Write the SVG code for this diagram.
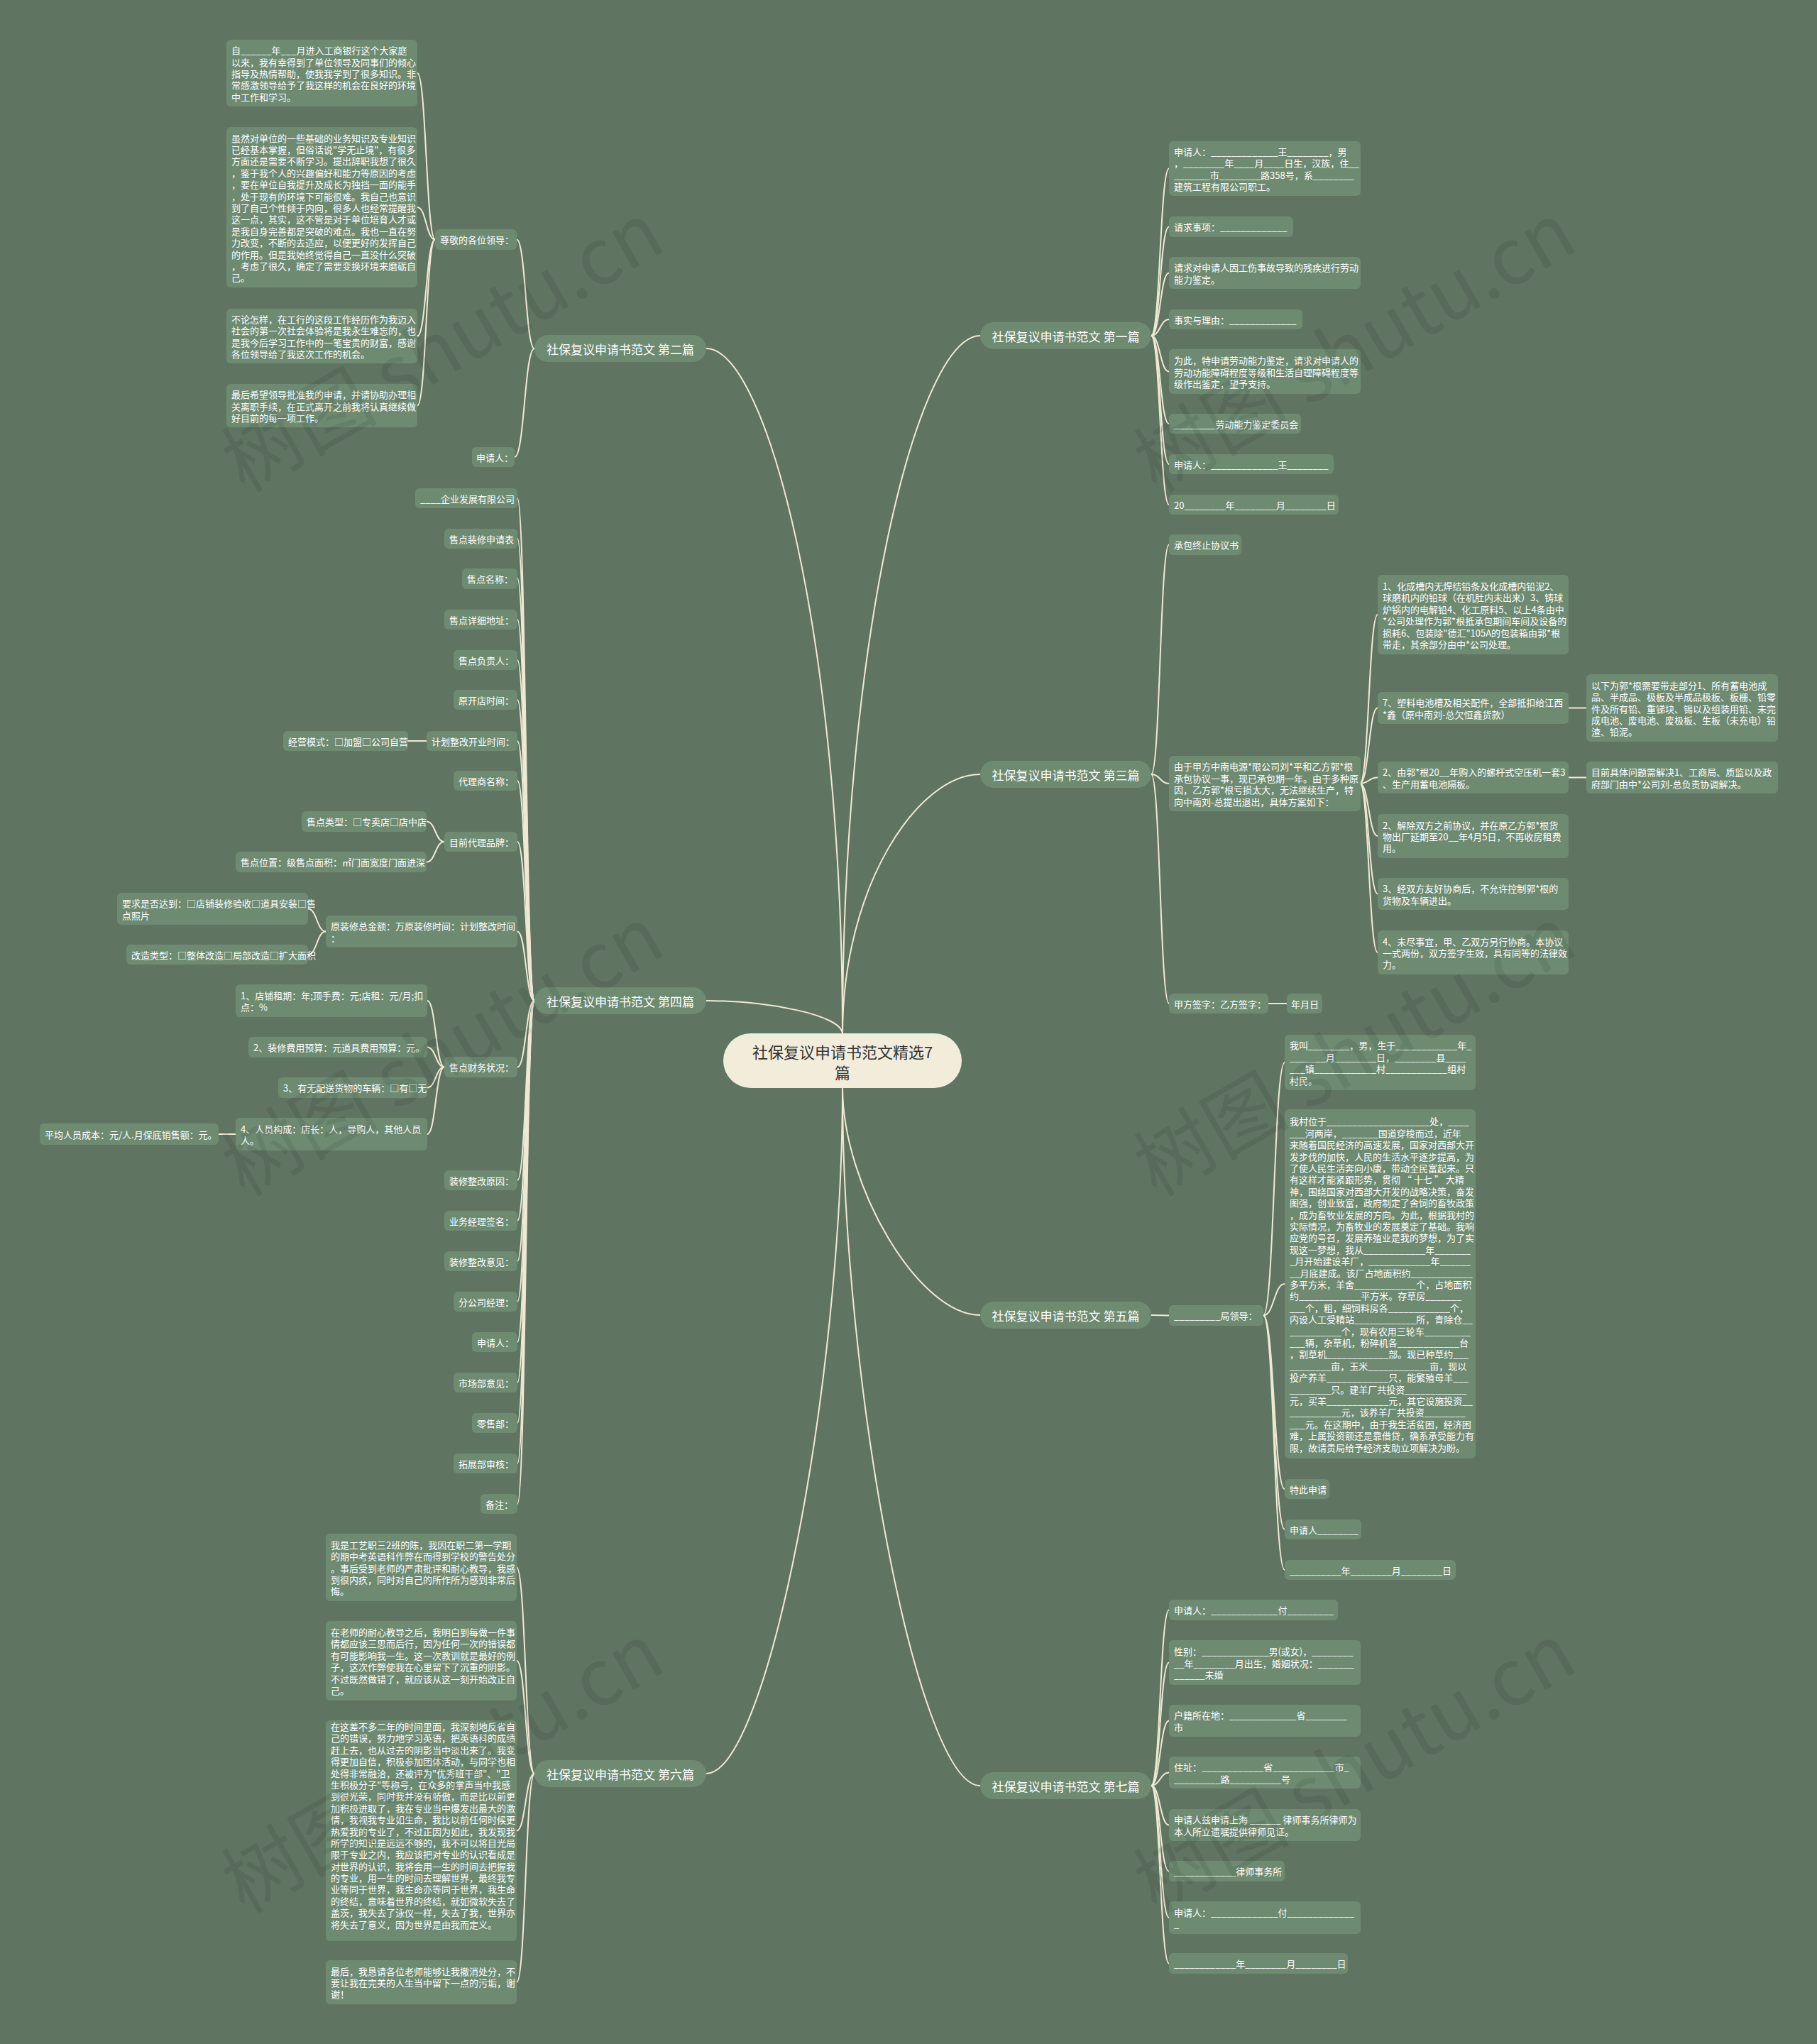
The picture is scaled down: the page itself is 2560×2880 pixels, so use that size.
<svg xmlns="http://www.w3.org/2000/svg" width="2560" height="2880" viewBox="0 0 2560 2880">
<style>
.bg{fill:#607462}
.n{fill:#6e8b72}
.t{font-family:"Noto Sans CJK SC","Noto Sans",sans-serif;font-size:13px;fill:#ffffff;dominant-baseline:central}
.bt{font-family:"Noto Sans CJK SC","Noto Sans",sans-serif;font-size:17px;fill:#ffffff;dominant-baseline:central;text-anchor:middle}
.rt{font-family:"Noto Sans CJK SC","Noto Sans",sans-serif;font-size:22px;fill:#333333;dominant-baseline:central;text-anchor:middle}
.c{fill:none;stroke:#efe9d4;stroke-width:2}
.wm{font-family:"Noto Sans CJK SC","Noto Sans",sans-serif;font-size:110px;fill:#000000;fill-opacity:0.08}
</style>
<rect class="bg" x="0" y="0" width="2560" height="2880"/>

<g id="connectors">
<path class="c" d="M995 491 C1081 491 1187 906 1187 1457"/>
<path class="c" d="M1381 473 C1294 473 1187 896 1187 1457"/>
<path class="c" d="M1381 1091 C1294 1091 1187 1248 1187 1457"/>
<path class="c" d="M995 1410 C1081 1410 1187 1430 1187 1457"/>
<path class="c" d="M1381 1853 C1294 1853 1187 1670 1187 1532"/>
<path class="c" d="M995 2499 C1081 2499 1187 1948 1187 1532"/>
<path class="c" d="M1381 2516 C1294 2516 1187 1955 1187 1532"/>
<path class="c" d="M1622 473 C1634.5 473 1634.5 237.5 1647 237.5"/>
<path class="c" d="M1622 473 C1634.5 473 1634.5 319.5 1647 319.5"/>
<path class="c" d="M1622 473 C1634.5 473 1634.5 384.5 1647 384.5"/>
<path class="c" d="M1622 473 C1634.5 473 1634.5 450 1647 450"/>
<path class="c" d="M1622 473 C1634.5 473 1634.5 523.5 1647 523.5"/>
<path class="c" d="M1622 473 C1634.5 473 1634.5 597 1647 597"/>
<path class="c" d="M1622 473 C1634.5 473 1634.5 654 1647 654"/>
<path class="c" d="M1622 473 C1634.5 473 1634.5 711 1647 711"/>
<path class="c" d="M1622 1091 C1634.5 1091 1634.5 767.5 1647 767.5"/>
<path class="c" d="M1622 1091 C1634.5 1091 1634.5 1104 1647 1104"/>
<path class="c" d="M1622 1091 C1634.5 1091 1634.5 1414 1647 1414"/>
<path class="c" d="M1787 1414 L1813 1414"/>
<path class="c" d="M1916 1104 C1928.5 1104 1928.5 866 1941 866"/>
<path class="c" d="M1916 1104 C1928.5 1104 1928.5 997.5 1941 997.5"/>
<path class="c" d="M1916 1104 C1928.5 1104 1928.5 1095.5 1941 1095.5"/>
<path class="c" d="M1916 1104 C1928.5 1104 1928.5 1178 1941 1178"/>
<path class="c" d="M1916 1104 C1928.5 1104 1928.5 1259.5 1941 1259.5"/>
<path class="c" d="M1916 1104 C1928.5 1104 1928.5 1342 1941 1342"/>
<path class="c" d="M2210 997.5 L2235 997.5"/>
<path class="c" d="M2210 1095.5 L2235 1095.5"/>
<path class="c" d="M1622 1853 L1647 1853.5"/>
<path class="c" d="M1780 1853.5 C1795 1853.5 1795 1497 1810 1497"/>
<path class="c" d="M1780 1853.5 C1795 1853.5 1795 1809 1810 1809"/>
<path class="c" d="M1780 1853.5 C1795 1853.5 1795 2098 1810 2098"/>
<path class="c" d="M1780 1853.5 C1795 1853.5 1795 2155 1810 2155"/>
<path class="c" d="M1780 1853.5 C1795 1853.5 1795 2212 1810 2212"/>
<path class="c" d="M1622 2516 C1634.5 2516 1634.5 2268.5 1647 2268.5"/>
<path class="c" d="M1622 2516 C1634.5 2516 1634.5 2342.5 1647 2342.5"/>
<path class="c" d="M1622 2516 C1634.5 2516 1634.5 2424.5 1647 2424.5"/>
<path class="c" d="M1622 2516 C1634.5 2516 1634.5 2497.5 1647 2497.5"/>
<path class="c" d="M1622 2516 C1634.5 2516 1634.5 2571.5 1647 2571.5"/>
<path class="c" d="M1622 2516 C1634.5 2516 1634.5 2636.5 1647 2636.5"/>
<path class="c" d="M1622 2516 C1634.5 2516 1634.5 2702 1647 2702"/>
<path class="c" d="M1622 2516 C1634.5 2516 1634.5 2766.5 1647 2766.5"/>
<path class="c" d="M753 491 C740.5 491 740.5 337.5 728 337.5"/>
<path class="c" d="M753 491 C739 491 739 644 725 644"/>
<path class="c" d="M613 337.5 C600.5 337.5 600.5 103 588 103"/>
<path class="c" d="M613 337.5 C600.5 337.5 600.5 292 588 292"/>
<path class="c" d="M613 337.5 C600.5 337.5 600.5 473.5 588 473.5"/>
<path class="c" d="M613 337.5 C600.5 337.5 600.5 571.5 588 571.5"/>
<path class="c" d="M753 1410 C741 1410 741 702 729 702"/>
<path class="c" d="M753 1410 C741 1410 741 759 729 759"/>
<path class="c" d="M753 1410 C741 1410 741 815 729 815"/>
<path class="c" d="M753 1410 C741 1410 741 873 729 873"/>
<path class="c" d="M753 1410 C741 1410 741 930 729 930"/>
<path class="c" d="M753 1410 C741 1410 741 986 729 986"/>
<path class="c" d="M753 1410 C741 1410 741 1044 729 1044"/>
<path class="c" d="M753 1410 C741 1410 741 1100 729 1100"/>
<path class="c" d="M753 1410 C741 1410 741 1186 729 1186"/>
<path class="c" d="M753 1410 C741 1410 741 1312.5 729 1312.5"/>
<path class="c" d="M753 1410 C741 1410 741 1503.5 729 1503.5"/>
<path class="c" d="M753 1410 C741 1410 741 1663 729 1663"/>
<path class="c" d="M753 1410 C741 1410 741 1720 729 1720"/>
<path class="c" d="M753 1410 C741 1410 741 1777 729 1777"/>
<path class="c" d="M753 1410 C741 1410 741 1834 729 1834"/>
<path class="c" d="M753 1410 C741 1410 741 1891 729 1891"/>
<path class="c" d="M753 1410 C741 1410 741 1948 729 1948"/>
<path class="c" d="M753 1410 C741 1410 741 2005 729 2005"/>
<path class="c" d="M753 1410 C741 1410 741 2062 729 2062"/>
<path class="c" d="M753 1410 C741 1410 741 2119 729 2119"/>
<path class="c" d="M601 1044 L575 1044"/>
<path class="c" d="M626 1186 C613.5 1186 613.5 1157.5 601 1157.5"/>
<path class="c" d="M626 1186 C613.5 1186 613.5 1214.5 601 1214.5"/>
<path class="c" d="M459 1312.5 C446.5 1312.5 446.5 1280.5 434 1280.5"/>
<path class="c" d="M459 1312.5 C446.5 1312.5 446.5 1345 434 1345"/>
<path class="c" d="M626 1503.5 C614 1503.5 614 1410 602 1410"/>
<path class="c" d="M626 1503.5 C614 1503.5 614 1475.5 602 1475.5"/>
<path class="c" d="M626 1503.5 C614 1503.5 614 1532.5 602 1532.5"/>
<path class="c" d="M626 1503.5 C614 1503.5 614 1598 602 1598"/>
<path class="c" d="M332 1598 L308 1598"/>
<path class="c" d="M753 2499 C740.5 2499 740.5 2208.5 728 2208.5"/>
<path class="c" d="M753 2499 C740.5 2499 740.5 2340 728 2340"/>
<path class="c" d="M753 2499 C740.5 2499 740.5 2579.5 728 2579.5"/>
<path class="c" d="M753 2499 C740.5 2499 740.5 2793 728 2793"/>
</g>

<g id="root"><rect x="1019" y="1456" width="336" height="77" rx="38.5" fill="#f2eddb"/><text class="rt"><tspan x="1187" y="1481">社保复议申请书范文精选7</tspan><tspan x="1187" y="1510">篇</tspan></text></g>

<g id="b1"><rect class="n" x="1381" y="454" width="241" height="38" rx="19"/><text class="bt" x="1501.5" y="473">社保复议申请书范文 第一篇</text></g>
<g id="b2"><rect class="n" x="753" y="472" width="242" height="38" rx="19"/><text class="bt" x="874" y="491">社保复议申请书范文 第二篇</text></g>
<g id="b3"><rect class="n" x="1381" y="1072" width="241" height="38" rx="19"/><text class="bt" x="1501.5" y="1091">社保复议申请书范文 第三篇</text></g>
<g id="b4"><rect class="n" x="753" y="1391" width="242" height="38" rx="19"/><text class="bt" x="874" y="1410">社保复议申请书范文 第四篇</text></g>
<g id="b5"><rect class="n" x="1381" y="1834" width="241" height="38" rx="19"/><text class="bt" x="1501.5" y="1853">社保复议申请书范文 第五篇</text></g>
<g id="b6"><rect class="n" x="753" y="2480" width="242" height="38" rx="19"/><text class="bt" x="874" y="2499">社保复议申请书范文 第六篇</text></g>
<g id="b7"><rect class="n" x="1381" y="2497" width="241" height="38" rx="19"/><text class="bt" x="1501.5" y="2516">社保复议申请书范文 第七篇</text></g>

<g id="p1-1"><rect class="n" x="1647" y="199" width="270" height="77" rx="6"/><text class="t" y="212.9"><tspan x="1654">申请人：_____________王________，男</tspan><tspan x="1654" dy="16.4">，________年____月____日生，汉族，住__</tspan><tspan x="1654" dy="16.4">_______市________路358号，系________</tspan><tspan x="1654" dy="16.4">建筑工程有限公司职工。</tspan></text></g>
<g id="p1-2"><rect class="n" x="1647" y="305" width="175" height="29" rx="6"/><text class="t" x="1654" y="319.5">请求事项：_____________</text></g>
<g id="p1-3"><rect class="n" x="1647" y="362" width="270" height="45" rx="6"/><text class="t" y="376.3"><tspan x="1654">请求对申请人因工伤事故导致的残疾进行劳动</tspan><tspan x="1654" dy="16.4">能力鉴定。</tspan></text></g>
<g id="p1-4"><rect class="n" x="1647" y="436" width="188" height="28" rx="6"/><text class="t" x="1654" y="450">事实与理由：_____________</text></g>
<g id="p1-5"><rect class="n" x="1647" y="492" width="270" height="63" rx="6"/><text class="t" y="507.1"><tspan x="1654">为此，特申请劳动能力鉴定，请求对申请人的</tspan><tspan x="1654" dy="16.4">劳动功能障碍程度等级和生活自理障碍程度等</tspan><tspan x="1654" dy="16.4">级作出鉴定，望予支持。</tspan></text></g>
<g id="p1-6"><rect class="n" x="1647" y="583" width="186" height="28" rx="6"/><text class="t" x="1654" y="597">________劳动能力鉴定委员会</text></g>
<g id="p1-7"><rect class="n" x="1647" y="640" width="232" height="28" rx="6"/><text class="t" x="1654" y="654">申请人：_____________王________</text></g>
<g id="p1-8"><rect class="n" x="1647" y="697" width="239" height="28" rx="6"/><text class="t" x="1654" y="711">20________年________月________日</text></g>

<g id="p3-a"><rect class="n" x="1647" y="753" width="102" height="29" rx="6"/><text class="t" x="1654" y="767.5">承包终止协议书</text></g>
<g id="p3-b"><rect class="n" x="1647" y="1065" width="270" height="78" rx="6"/><text class="t" y="1079.4"><tspan x="1654">由于甲方中南电源*限公司刘*平和乙方郭*根</tspan><tspan x="1654" dy="16.4">承包协议一事，现已承包期一年。由于多种原</tspan><tspan x="1654" dy="16.4">因，乙方郭*根亏损太大，无法继续生产，特</tspan><tspan x="1654" dy="16.4">向中南刘-总提出退出，具体方案如下：</tspan></text></g>
<g id="p3-c"><rect class="n" x="1647" y="1400" width="140" height="28" rx="6"/><text class="t" x="1654" y="1414">甲方签字：乙方签字：</text></g>
<g id="p3-c1"><rect class="n" x="1813" y="1400" width="50" height="28" rx="6"/><text class="t" x="1819" y="1414">年月日</text></g>
<g id="p3-b1"><rect class="n" x="1941" y="810" width="269" height="112" rx="6"/><text class="t" y="825"><tspan x="1948">1、化成槽内无焊结铅条及化成槽内铅泥2、</tspan><tspan x="1948" dy="16.4">球磨机内的铅球（在机肚内未出来）3、铸球</tspan><tspan x="1948" dy="16.4">炉锅内的电解铅4、化工原料5、以上4条由中</tspan><tspan x="1948" dy="16.4">*公司处理作为郭*根抵承包期间车间及设备的</tspan><tspan x="1948" dy="16.4">损耗6、包装除"德汇"105A的包装箱由郭*根</tspan><tspan x="1948" dy="16.4">带走，其余部分由中*公司处理。</tspan></text></g>
<g id="p3-b2"><rect class="n" x="1941" y="975" width="269" height="45" rx="6"/><text class="t" y="989.3"><tspan x="1948">7、塑料电池槽及相关配件，全部抵扣给江西</tspan><tspan x="1948" dy="16.4">*鑫（原中南刘-总欠恒鑫货款）</tspan></text></g>
<g id="p3-b2a"><rect class="n" x="2235" y="950" width="270" height="95" rx="6"/><text class="t" y="964.7"><tspan x="2242">以下为郭*根需要带走部分1、所有蓄电池成</tspan><tspan x="2242" dy="16.4">品、半成品、极板及半成品极板、板栅、铅零</tspan><tspan x="2242" dy="16.4">件及所有铅、重锑块、锡以及组装用铅、未完</tspan><tspan x="2242" dy="16.4">成电池、废电池、废极板、生板（未充电）铅</tspan><tspan x="2242" dy="16.4">渣、铅泥。</tspan></text></g>
<g id="p3-b3"><rect class="n" x="1941" y="1073" width="269" height="45" rx="6"/><text class="t" y="1087.3"><tspan x="1948">2、由郭*根20__年购入的螺杆式空压机一套3</tspan><tspan x="1948" dy="16.4">、生产用蓄电池隔板。</tspan></text></g>
<g id="p3-b3a"><rect class="n" x="2235" y="1073" width="270" height="45" rx="6"/><text class="t" y="1087.3"><tspan x="2242">目前具体问题需解决1、工商局、质监以及政</tspan><tspan x="2242" dy="16.4">府部门由中*公司刘-总负责协调解决。</tspan></text></g>
<g id="p3-b4"><rect class="n" x="1941" y="1147" width="269" height="62" rx="6"/><text class="t" y="1161.6"><tspan x="1948">2、解除双方之前协议，并在原乙方郭*根货</tspan><tspan x="1948" dy="16.4">物出厂延期至20__年4月5日，不再收房租费</tspan><tspan x="1948" dy="16.4">用。</tspan></text></g>
<g id="p3-b5"><rect class="n" x="1941" y="1237" width="269" height="45" rx="6"/><text class="t" y="1251.3"><tspan x="1948">3、经双方友好协商后，不允许控制郭*根的</tspan><tspan x="1948" dy="16.4">货物及车辆进出。</tspan></text></g>
<g id="p3-b6"><rect class="n" x="1941" y="1311" width="269" height="62" rx="6"/><text class="t" y="1325.6"><tspan x="1948">4、未尽事宜，甲、乙双方另行协商。本协议</tspan><tspan x="1948" dy="16.4">一式两份，双方签字生效，具有同等的法律效</tspan><tspan x="1948" dy="16.4">力。</tspan></text></g>

<g id="p5-0"><rect class="n" x="1647" y="1839" width="133" height="29" rx="6"/><text class="t" x="1654" y="1853.5">_________局领导：</text></g>
<g id="p5-1"><rect class="n" x="1810" y="1458" width="269" height="78" rx="6"/><text class="t" y="1472.4"><tspan x="1817">我叫________，男，生于____________年_</tspan><tspan x="1817" dy="16.4">_______月________日，________县____</tspan><tspan x="1817" dy="16.4">___镇____________村____________组村</tspan><tspan x="1817" dy="16.4">村民。</tspan></text></g>
<g id="p5-2"><rect class="n" x="1810" y="1563" width="269" height="492" rx="6"/><text class="t" y="1579.4"><tspan x="1817">我村位于____________________处，____</tspan><tspan x="1817" dy="16.4">___河两岸，_______国道穿梭而过，近年</tspan><tspan x="1817" dy="16.4">来随着国民经济的高速发展，国家对西部大开</tspan><tspan x="1817" dy="16.4">发步伐的加快，人民的生活水平逐步提高，为</tspan><tspan x="1817" dy="16.4">了使人民生活奔向小康，带动全民富起来。只</tspan><tspan x="1817" dy="16.4">有这样才能紧跟形势，贯彻 “ 十七 ” 大精</tspan><tspan x="1817" dy="16.4">神，围绕国家对西部大开发的战略决策，奋发</tspan><tspan x="1817" dy="16.4">图强，创业致富，政府制定了舍饲的畜牧政策</tspan><tspan x="1817" dy="16.4">，成为畜牧业发展的方向。为此，根据我村的</tspan><tspan x="1817" dy="16.4">实际情况，为畜牧业的发展奠定了基础。我响</tspan><tspan x="1817" dy="16.4">应党的号召，发展养殖业是我的梦想，为了实</tspan><tspan x="1817" dy="16.4">现这一梦想，我从____________年_______</tspan><tspan x="1817" dy="16.4">_月开始建设羊厂，____________年______</tspan><tspan x="1817" dy="16.4">__月底建成。该厂占地面积约____________</tspan><tspan x="1817" dy="16.4">多平方米，羊舍____________个，占地面积</tspan><tspan x="1817" dy="16.4">约____________平方米。存草房_______</tspan><tspan x="1817" dy="16.4">___个，粗，细饲料房各____________个，</tspan><tspan x="1817" dy="16.4">内设人工受精站____________所，青除仓__</tspan><tspan x="1817" dy="16.4">__________个，现有农用三轮车_________</tspan><tspan x="1817" dy="16.4">___辆，杂草机，粉碎机各____________台</tspan><tspan x="1817" dy="16.4">，割草机____________部。现已种草约___</tspan><tspan x="1817" dy="16.4">________亩，玉米____________亩，现以</tspan><tspan x="1817" dy="16.4">投产养羊____________只，能繁殖母羊___</tspan><tspan x="1817" dy="16.4">________只。建羊厂共投资____________</tspan><tspan x="1817" dy="16.4">元，买羊____________元，其它设施投资__</tspan><tspan x="1817" dy="16.4">__________元，该养羊厂共投资________</tspan><tspan x="1817" dy="16.4">___元。在这期中，由于我生活贫困，经济困</tspan><tspan x="1817" dy="16.4">难，上属投资额还是靠借贷，确系承受能力有</tspan><tspan x="1817" dy="16.4">限，故请贵局给予经济支助立项解决为盼。</tspan></text></g>
<g id="p5-3"><rect class="n" x="1810" y="2084" width="63" height="28" rx="6"/><text class="t" x="1817" y="2098">特此申请</text></g>
<g id="p5-4"><rect class="n" x="1810" y="2141" width="108" height="28" rx="6"/><text class="t" x="1817" y="2155">申请人________</text></g>
<g id="p5-5"><rect class="n" x="1810" y="2198" width="241" height="28" rx="6"/><text class="t" x="1817" y="2212">__________年________月________日</text></g>

<g id="p7-1"><rect class="n" x="1647" y="2254" width="238" height="29" rx="6"/><text class="t" x="1654" y="2268.5">申请人：_____________付_________</text></g>
<g id="p7-2"><rect class="n" x="1647" y="2311" width="270" height="63" rx="6"/><text class="t" y="2326.1"><tspan x="1654">性别：_____________男(或女)，________</tspan><tspan x="1654" dy="16.4">__年________月出生，婚姻状况：_______</tspan><tspan x="1654" dy="16.4">______未婚</tspan></text></g>
<g id="p7-3"><rect class="n" x="1647" y="2402" width="270" height="45" rx="6"/><text class="t" y="2416.3"><tspan x="1654">户籍所在地：_____________省________</tspan><tspan x="1654" dy="16.4">市</tspan></text></g>
<g id="p7-4"><rect class="n" x="1647" y="2475" width="270" height="45" rx="6"/><text class="t" y="2489.3"><tspan x="1654">住址：____________省____________市_</tspan><tspan x="1654" dy="16.4">_________路__________号</tspan></text></g>
<g id="p7-5"><rect class="n" x="1647" y="2549" width="270" height="45" rx="6"/><text class="t" y="2563.3"><tspan x="1654">申请人兹申请上海 ______ 律师事务所律师为</tspan><tspan x="1654" dy="16.4">本人所立遗嘱提供律师见证。</tspan></text></g>
<g id="p7-6"><rect class="n" x="1647" y="2622" width="163" height="29" rx="6"/><text class="t" x="1654" y="2636.5">____________律师事务所</text></g>
<g id="p7-7"><rect class="n" x="1647" y="2679" width="270" height="46" rx="6"/><text class="t" y="2693.8"><tspan x="1654">申请人：_____________付_____________</tspan><tspan x="1654" dy="16.4">_</tspan></text></g>
<g id="p7-8"><rect class="n" x="1647" y="2752" width="252" height="29" rx="6"/><text class="t" x="1654" y="2766.5">____________年________月________日</text></g>

<g id="p2-0"><rect class="n" x="613" y="323" width="115" height="29" rx="6"/><text class="t" x="620" y="337.5">尊敬的各位领导：</text></g>
<g id="p2-1"><rect class="n" x="319" y="56" width="269" height="94" rx="6"/><text class="t" y="70.2"><tspan x="326">自______年___月进入工商银行这个大家庭</tspan><tspan x="326" dy="16.4">以来，我有幸得到了单位领导及同事们的倾心</tspan><tspan x="326" dy="16.4">指导及热情帮助，使我我学到了很多知识。非</tspan><tspan x="326" dy="16.4">常感激领导给予了我这样的机会在良好的环境</tspan><tspan x="326" dy="16.4">中工作和学习。</tspan></text></g>
<g id="p2-2"><rect class="n" x="319" y="179" width="269" height="226" rx="6"/><text class="t" y="193.6"><tspan x="326">虽然对单位的一些基础的业务知识及专业知识</tspan><tspan x="326" dy="16.4">已经基本掌握，但俗话说"学无止境"，有很多</tspan><tspan x="326" dy="16.4">方面还是需要不断学习。提出辞职我想了很久</tspan><tspan x="326" dy="16.4">，鉴于我个人的兴趣偏好和能力等原因的考虑</tspan><tspan x="326" dy="16.4">，要在单位自我提升及成长为独挡一面的能手</tspan><tspan x="326" dy="16.4">，处于现有的环境下可能很难。我自己也意识</tspan><tspan x="326" dy="16.4">到了自己个性倾于内向，很多人也经常提醒我</tspan><tspan x="326" dy="16.4">这一点，其实，这不管是对于单位培育人才或</tspan><tspan x="326" dy="16.4">是我自身完善都是突破的难点。我也一直在努</tspan><tspan x="326" dy="16.4">力改变，不断的去适应，以便更好的发挥自己</tspan><tspan x="326" dy="16.4">的作用。但是我始终觉得自己一直没什么突破</tspan><tspan x="326" dy="16.4">，考虑了很久，确定了需要变换环境来磨砺自</tspan><tspan x="326" dy="16.4">己。</tspan></text></g>
<g id="p2-3"><rect class="n" x="319" y="435" width="269" height="77" rx="6"/><text class="t" y="448.9"><tspan x="326">不论怎样，在工行的这段工作经历作为我迈入</tspan><tspan x="326" dy="16.4">社会的第一次社会体验将是我永生难忘的，也</tspan><tspan x="326" dy="16.4">是我今后学习工作中的一笔宝贵的财富，感谢</tspan><tspan x="326" dy="16.4">各位领导给了我这次工作的机会。</tspan></text></g>
<g id="p2-4"><rect class="n" x="319" y="541" width="269" height="61" rx="6"/><text class="t" y="555.1"><tspan x="326">最后希望领导批准我的申请，并请协助办理相</tspan><tspan x="326" dy="16.4">关离职手续，在正式离开之前我将认真继续做</tspan><tspan x="326" dy="16.4">好目前的每一项工作。</tspan></text></g>
<g id="p2-5"><rect class="n" x="665" y="630" width="60" height="28" rx="6"/><text class="t" x="671" y="644">申请人：</text></g>

<g id="p4-1"><rect class="n" x="585" y="688" width="144" height="28" rx="6"/><text class="t" x="592" y="702">____企业发展有限公司</text></g>
<g id="p4-2"><rect class="n" x="626" y="745" width="103" height="28" rx="6"/><text class="t" x="633" y="759">售点装修申请表</text></g>
<g id="p4-3"><rect class="n" x="651" y="801" width="78" height="29" rx="6"/><text class="t" x="658" y="815.5">售点名称：</text></g>
<g id="p4-4"><rect class="n" x="626" y="859" width="103" height="28" rx="6"/><text class="t" x="633" y="873">售点详细地址：</text></g>
<g id="p4-5"><rect class="n" x="639" y="916" width="90" height="28" rx="6"/><text class="t" x="646" y="930">售点负责人：</text></g>
<g id="p4-6"><rect class="n" x="639" y="972" width="90" height="28" rx="6"/><text class="t" x="646" y="986">原开店时间：</text></g>
<g id="p4-7"><rect class="n" x="601" y="1030" width="128" height="28" rx="6"/><text class="t" x="608" y="1044">计划整改开业时间：</text></g>
<g id="p4-7a"><rect class="n" x="399" y="1030" width="176" height="28" rx="6"/><text class="t" x="406" y="1044">经营模式：□加盟□公司自营</text></g>
<g id="p4-8"><rect class="n" x="639" y="1086" width="90" height="28" rx="6"/><text class="t" x="646" y="1100">代理商名称：</text></g>
<g id="p4-9"><rect class="n" x="626" y="1172" width="103" height="28" rx="6"/><text class="t" x="633" y="1186">目前代理品牌：</text></g>
<g id="p4-9a"><rect class="n" x="425" y="1143" width="176" height="29" rx="6"/><text class="t" x="432" y="1157.5">售点类型：□专卖店□店中店</text></g>
<g id="p4-9b"><rect class="n" x="332" y="1200" width="269" height="29" rx="6"/><text class="t" x="339" y="1214.5">售点位置：级售点面积：㎡门面宽度门面进深</text></g>
<g id="p4-10"><rect class="n" x="459" y="1290" width="270" height="45" rx="6"/><text class="t" y="1304.3"><tspan x="466">原装修总金额：万原装修时间：计划整改时间</tspan><tspan x="466" dy="16.4">：</tspan></text></g>
<g id="p4-10a"><rect class="n" x="165" y="1258" width="269" height="45" rx="6"/><text class="t" y="1272.3"><tspan x="172">要求是否达到：□店铺装修验收□道具安装□售</tspan><tspan x="172" dy="16.4">点照片</tspan></text></g>
<g id="p4-10b"><rect class="n" x="178" y="1331" width="256" height="28" rx="6"/><text class="t" x="185" y="1345">改造类型：□整体改造□局部改造□扩大面积</text></g>
<g id="p4-11"><rect class="n" x="626" y="1489" width="103" height="29" rx="6"/><text class="t" x="633" y="1503.5">售点财务状况：</text></g>
<g id="p4-11a"><rect class="n" x="332" y="1387" width="270" height="46" rx="6"/><text class="t" y="1401.8"><tspan x="339">1、店铺租期：年;顶手费：元;店租：元/月;扣</tspan><tspan x="339" dy="16.4">点：%</tspan></text></g>
<g id="p4-11b"><rect class="n" x="350" y="1461" width="252" height="29" rx="6"/><text class="t" x="357" y="1475.5">2、装修费用预算：元道具费用预算：元。</text></g>
<g id="p4-11c"><rect class="n" x="392" y="1518" width="210" height="29" rx="6"/><text class="t" x="399" y="1532.5">3、有无配送货物的车辆：□有□无</text></g>
<g id="p4-11d"><rect class="n" x="332" y="1575" width="270" height="46" rx="6"/><text class="t" y="1589.8"><tspan x="339">4、人员构成：店长：人，导购人，其他人员</tspan><tspan x="339" dy="16.4">人。</tspan></text></g>
<g id="p4-11e"><rect class="n" x="56" y="1583" width="252" height="30" rx="6"/><text class="t" x="63" y="1598">平均人员成本：元/人.月保底销售额：元。</text></g>
<g id="p4-12"><rect class="n" x="626" y="1649" width="103" height="28" rx="6"/><text class="t" x="633" y="1663">装修整改原因：</text></g>
<g id="p4-13"><rect class="n" x="626" y="1706" width="103" height="28" rx="6"/><text class="t" x="633" y="1720">业务经理签名：</text></g>
<g id="p4-14"><rect class="n" x="626" y="1763" width="103" height="28" rx="6"/><text class="t" x="633" y="1777">装修整改意见：</text></g>
<g id="p4-15"><rect class="n" x="639" y="1820" width="90" height="28" rx="6"/><text class="t" x="646" y="1834">分公司经理：</text></g>
<g id="p4-16"><rect class="n" x="665" y="1877" width="64" height="28" rx="6"/><text class="t" x="672" y="1891">申请人：</text></g>
<g id="p4-17"><rect class="n" x="639" y="1934" width="90" height="28" rx="6"/><text class="t" x="646" y="1948">市场部意见：</text></g>
<g id="p4-18"><rect class="n" x="665" y="1991" width="64" height="28" rx="6"/><text class="t" x="672" y="2005">零售部：</text></g>
<g id="p4-19"><rect class="n" x="639" y="2048" width="90" height="28" rx="6"/><text class="t" x="646" y="2062">拓展部审核：</text></g>
<g id="p4-20"><rect class="n" x="677" y="2105" width="52" height="28" rx="6"/><text class="t" x="684" y="2119">备注：</text></g>

<g id="p6-1"><rect class="n" x="459" y="2161" width="269" height="95" rx="6"/><text class="t" y="2175.7"><tspan x="466">我是工艺职三2班的陈，我因在职二第一学期</tspan><tspan x="466" dy="16.4">的期中考英语科作弊在而得到学校的警告处分</tspan><tspan x="466" dy="16.4">。事后受到老师的严肃批评和耐心教导，我感</tspan><tspan x="466" dy="16.4">到很内疚，同时对自己的所作所为感到非常后</tspan><tspan x="466" dy="16.4">悔。</tspan></text></g>
<g id="p6-2"><rect class="n" x="459" y="2284" width="269" height="112" rx="6"/><text class="t" y="2299"><tspan x="466">在老师的耐心教导之后，我明白到每做一件事</tspan><tspan x="466" dy="16.4">情都应该三思而后行，因为任何一次的错误都</tspan><tspan x="466" dy="16.4">有可能影响我一生。这一次教训就是最好的例</tspan><tspan x="466" dy="16.4">子，这次作弊使我在心里留下了沉重的阴影。</tspan><tspan x="466" dy="16.4">不过既然做错了，就应该从这一刻开始改正自</tspan><tspan x="466" dy="16.4">己。</tspan></text></g>
<g id="p6-3"><rect class="n" x="459" y="2424" width="269" height="311" rx="6"/><text class="t" y="2431.9"><tspan x="466">在这差不多二年的时间里面，我深刻地反省自</tspan><tspan x="466" dy="16.4">己的错误，努力地学习英语，把英语科的成绩</tspan><tspan x="466" dy="16.4">赶上去，也从过去的阴影当中淡出来了。我变</tspan><tspan x="466" dy="16.4">得更加自信，积极参加团体活动，与同学也相</tspan><tspan x="466" dy="16.4">处得非常融洽，还被评为"优秀班干部"、"卫</tspan><tspan x="466" dy="16.4">生积极分子"等称号，在众多的掌声当中我感</tspan><tspan x="466" dy="16.4">到很光荣，同时我并没有骄傲，而是比以前更</tspan><tspan x="466" dy="16.4">加积极进取了，我在专业当中爆发出最大的激</tspan><tspan x="466" dy="16.4">情，我视我专业如生命，我比以前任何时候更</tspan><tspan x="466" dy="16.4">热爱我的专业了，不过正因为如此，我发现我</tspan><tspan x="466" dy="16.4">所学的知识是远远不够的，我不可以将目光局</tspan><tspan x="466" dy="16.4">限于专业之内，我应该把对专业的认识看成是</tspan><tspan x="466" dy="16.4">对世界的认识，我将会用一生的时间去把握我</tspan><tspan x="466" dy="16.4">的专业，用一生的时间去理解世界，最终我专</tspan><tspan x="466" dy="16.4">业等同于世界，我生命亦等同于世界，我生命</tspan><tspan x="466" dy="16.4">的终结，意味着世界的终结，就如微软失去了</tspan><tspan x="466" dy="16.4">盖茨，我失去了泳仪一样，失去了我，世界亦</tspan><tspan x="466" dy="16.4">将失去了意义，因为世界是由我而定义。</tspan></text></g>
<g id="p6-4"><rect class="n" x="459" y="2762" width="269" height="62" rx="6"/><text class="t" y="2776.6"><tspan x="466">最后，我恳请各位老师能够让我撤消处分，不</tspan><tspan x="466" dy="16.4">要让我在完美的人生当中留下一点的污垢，谢</tspan><tspan x="466" dy="16.4">谢！</tspan></text></g>

<g id="watermarks">
<text class="wm" text-anchor="middle" transform="translate(643 523) rotate(-30)">树图 shutu.cn</text>
<text class="wm" text-anchor="middle" transform="translate(1928 523) rotate(-30)">树图 shutu.cn</text>
<text class="wm" text-anchor="middle" transform="translate(643 1515) rotate(-30)">树图 shutu.cn</text>
<text class="wm" text-anchor="middle" transform="translate(1928 1515) rotate(-30)">树图 shutu.cn</text>
<text class="wm" text-anchor="middle" transform="translate(643 2525) rotate(-30)">树图 shutu.cn</text>
<text class="wm" text-anchor="middle" transform="translate(1928 2525) rotate(-30)">树图 shutu.cn</text>
</g>
</svg>
